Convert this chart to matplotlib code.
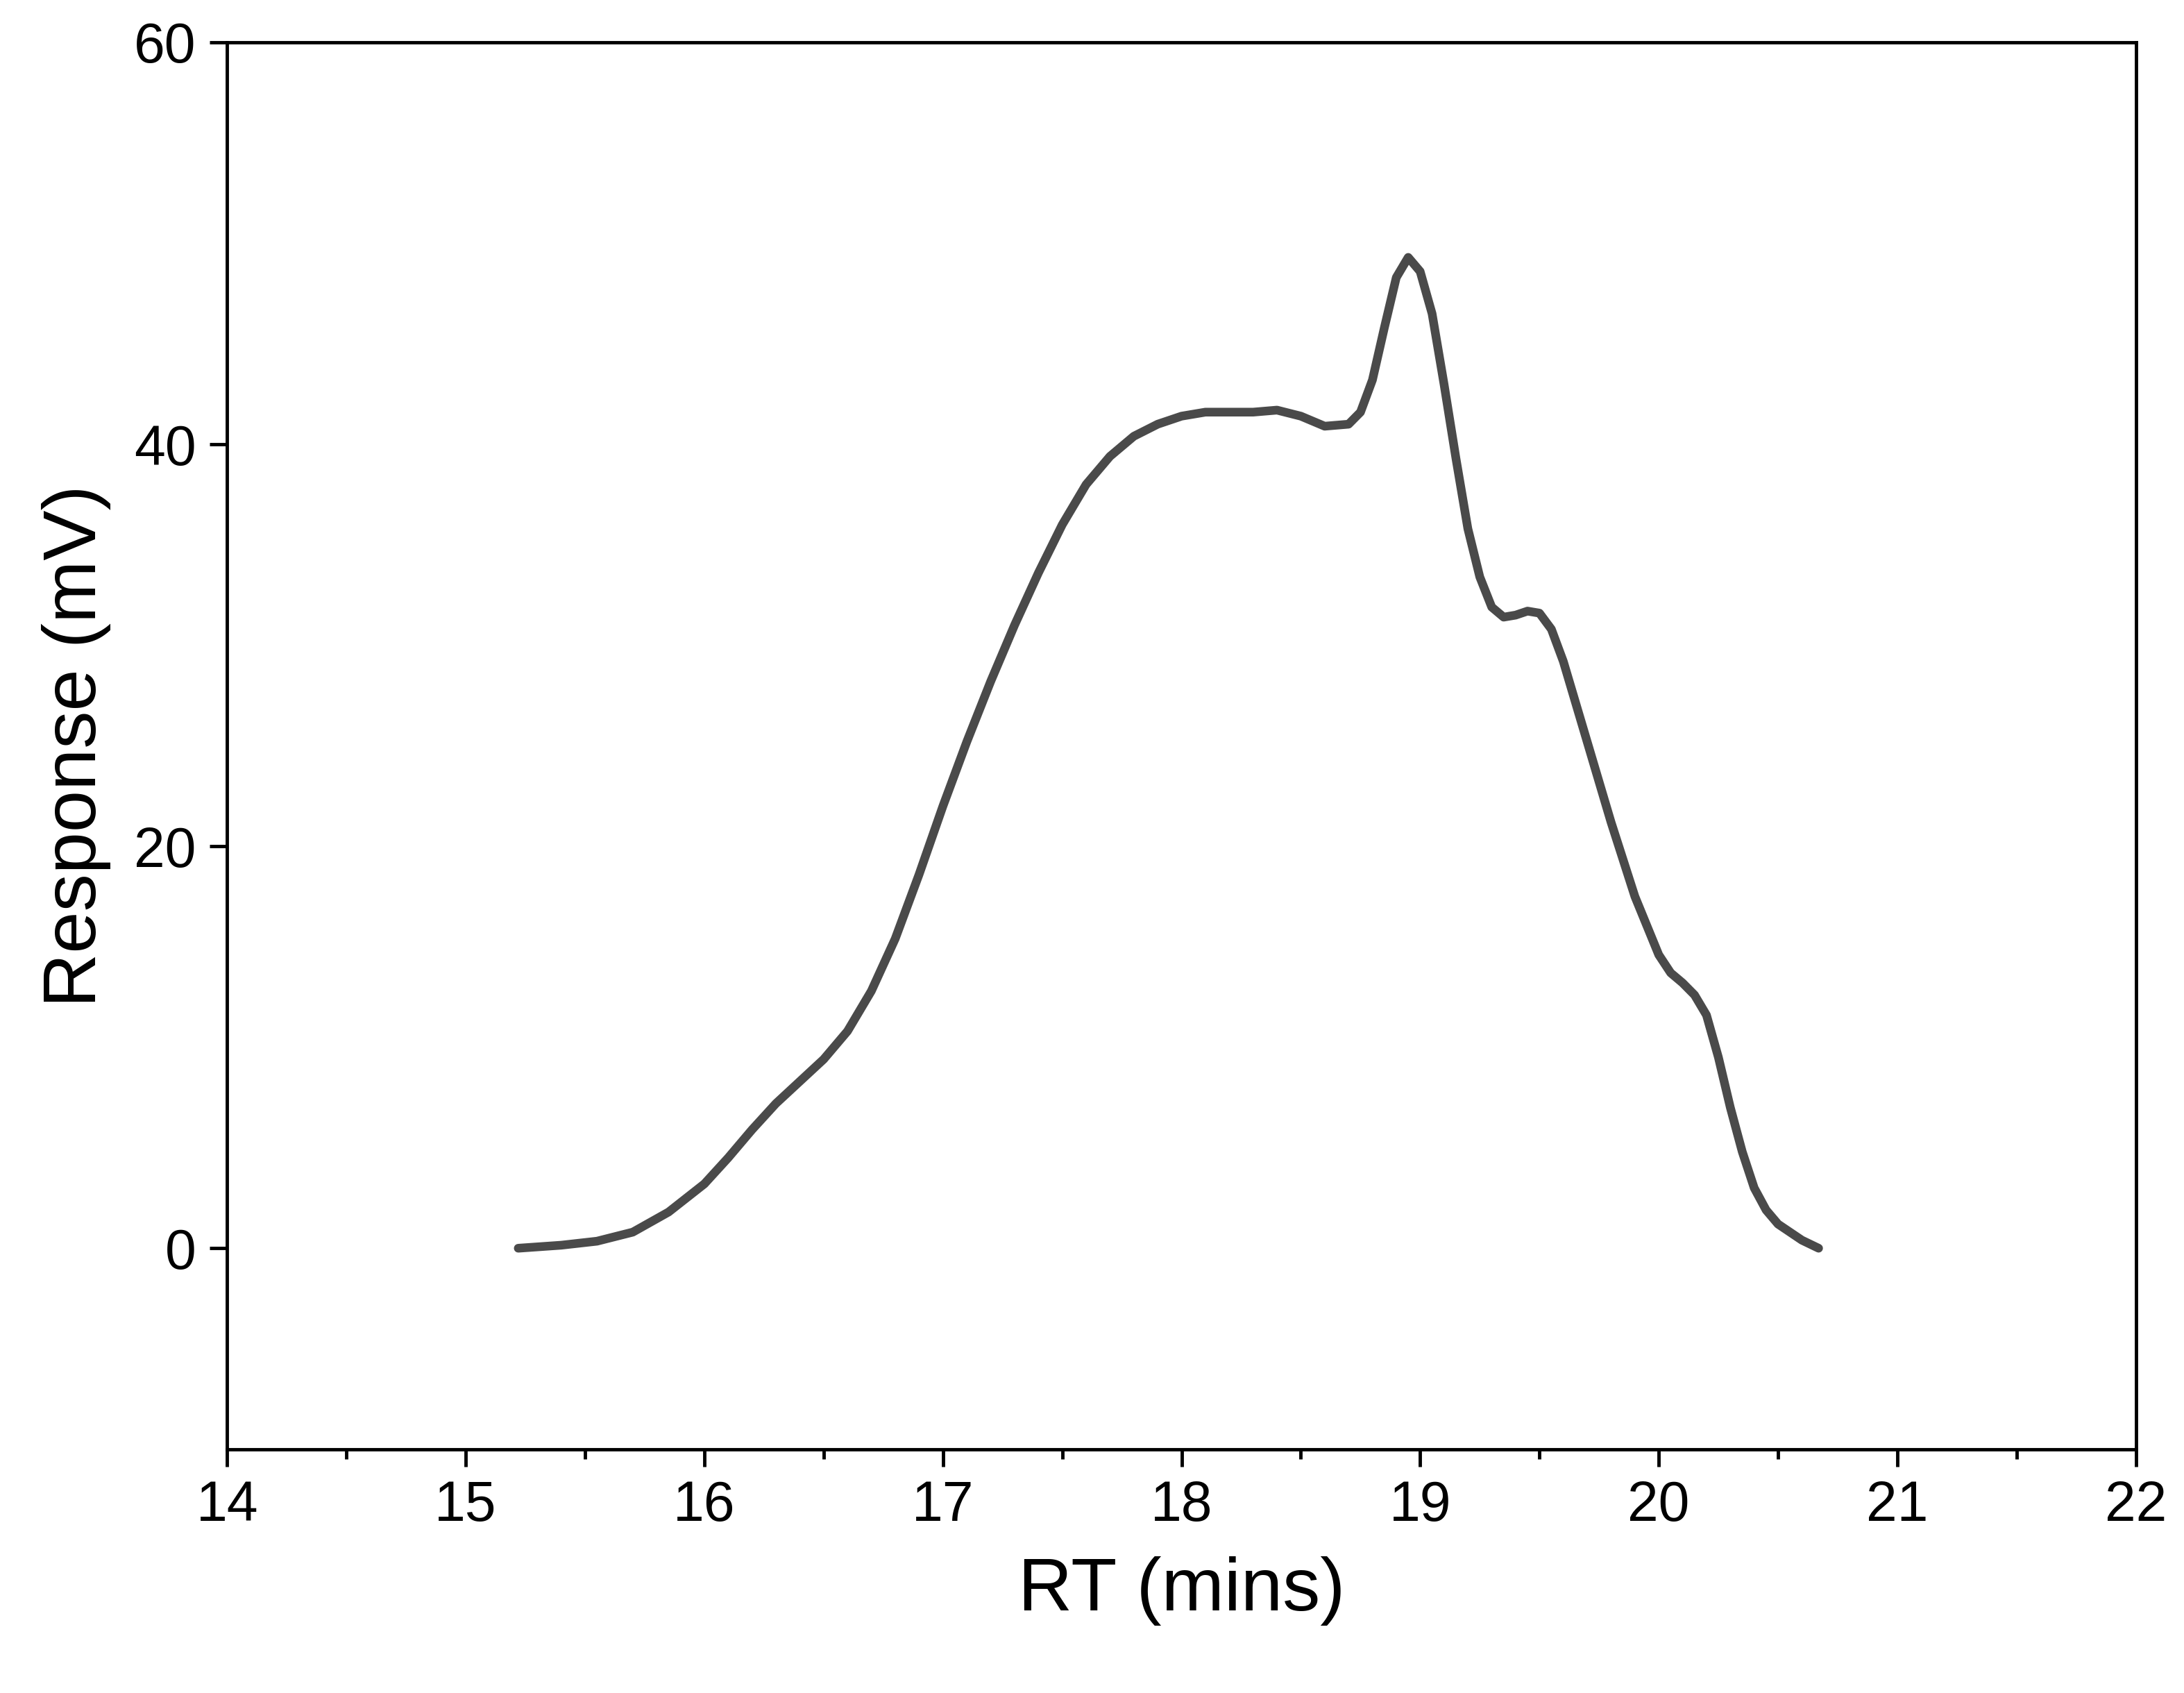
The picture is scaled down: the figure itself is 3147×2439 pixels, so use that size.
import matplotlib
matplotlib.use("Agg")
import matplotlib.pyplot as plt
from matplotlib.ticker import MultipleLocator

plt.rcParams['font.family'] = ['Liberation Sans', 'DejaVu Sans']

rt = [15.22, 15.4, 15.55, 15.7, 15.85, 16.0, 16.1, 16.2, 16.3, 16.4, 16.5, 16.6, 16.7,
      16.8, 16.9, 17.0, 17.1, 17.2, 17.3, 17.4, 17.5, 17.6, 17.7, 17.8, 17.9, 18.0,
      18.1, 18.2, 18.3, 18.4, 18.5, 18.6, 18.7, 18.75, 18.8, 18.85, 18.9, 18.95,
      19.0, 19.05, 19.1, 19.15, 19.2, 19.25, 19.3, 19.35, 19.4, 19.45, 19.5, 19.55,
      19.6, 19.7, 19.8, 19.9, 20.0, 20.05, 20.1, 20.15, 20.2, 20.25, 20.3, 20.35,
      20.4, 20.45, 20.5, 20.6, 20.67]
resp = [0.0, 0.15, 0.35, 0.8, 1.8, 3.2, 4.5, 5.9, 7.2, 8.3, 9.4, 10.8, 12.8,
        15.4, 18.6, 22.0, 25.2, 28.2, 31.0, 33.6, 36.0, 38.0, 39.4, 40.4, 41.0, 41.4,
        41.6, 41.6, 41.6, 41.7, 41.4, 40.9, 41.0, 41.6, 43.2, 45.8, 48.3, 49.3,
        48.6, 46.5, 43.0, 39.3, 35.8, 33.4, 31.9, 31.4, 31.5, 31.7, 31.6, 30.8,
        29.2, 25.2, 21.2, 17.5, 14.6, 13.7, 13.2, 12.6, 11.6, 9.5, 7.0, 4.8,
        3.0, 1.9, 1.2, 0.4, 0.0]

fig = plt.figure(figsize=(31.47, 24.39), dpi=100)
ax = fig.add_axes([0.104, 0.144, 0.874, 0.831])
ax.plot(rt, resp, color='#4a4a4a', lw=9, solid_capstyle='round', solid_joinstyle='round')

ax.set_xlim(14, 22)
ax.set_ylim(-10, 60)
ax.xaxis.set_major_locator(MultipleLocator(1))
ax.xaxis.set_minor_locator(MultipleLocator(0.5))
ax.yaxis.set_major_locator(MultipleLocator(20))
ax.tick_params(which='major', direction='out', length=18, width=3.5, labelsize=58, pad=14)
ax.tick_params(which='minor', direction='out', length=10, width=3.5)
for s in ax.spines.values():
    s.set_linewidth(3.5)

ax.set_xlabel('RT (mins)', fontsize=78, labelpad=24)
ax.set_ylabel('Response (mV)', fontsize=78, labelpad=24)

fig.savefig('out.png', dpi=100)
